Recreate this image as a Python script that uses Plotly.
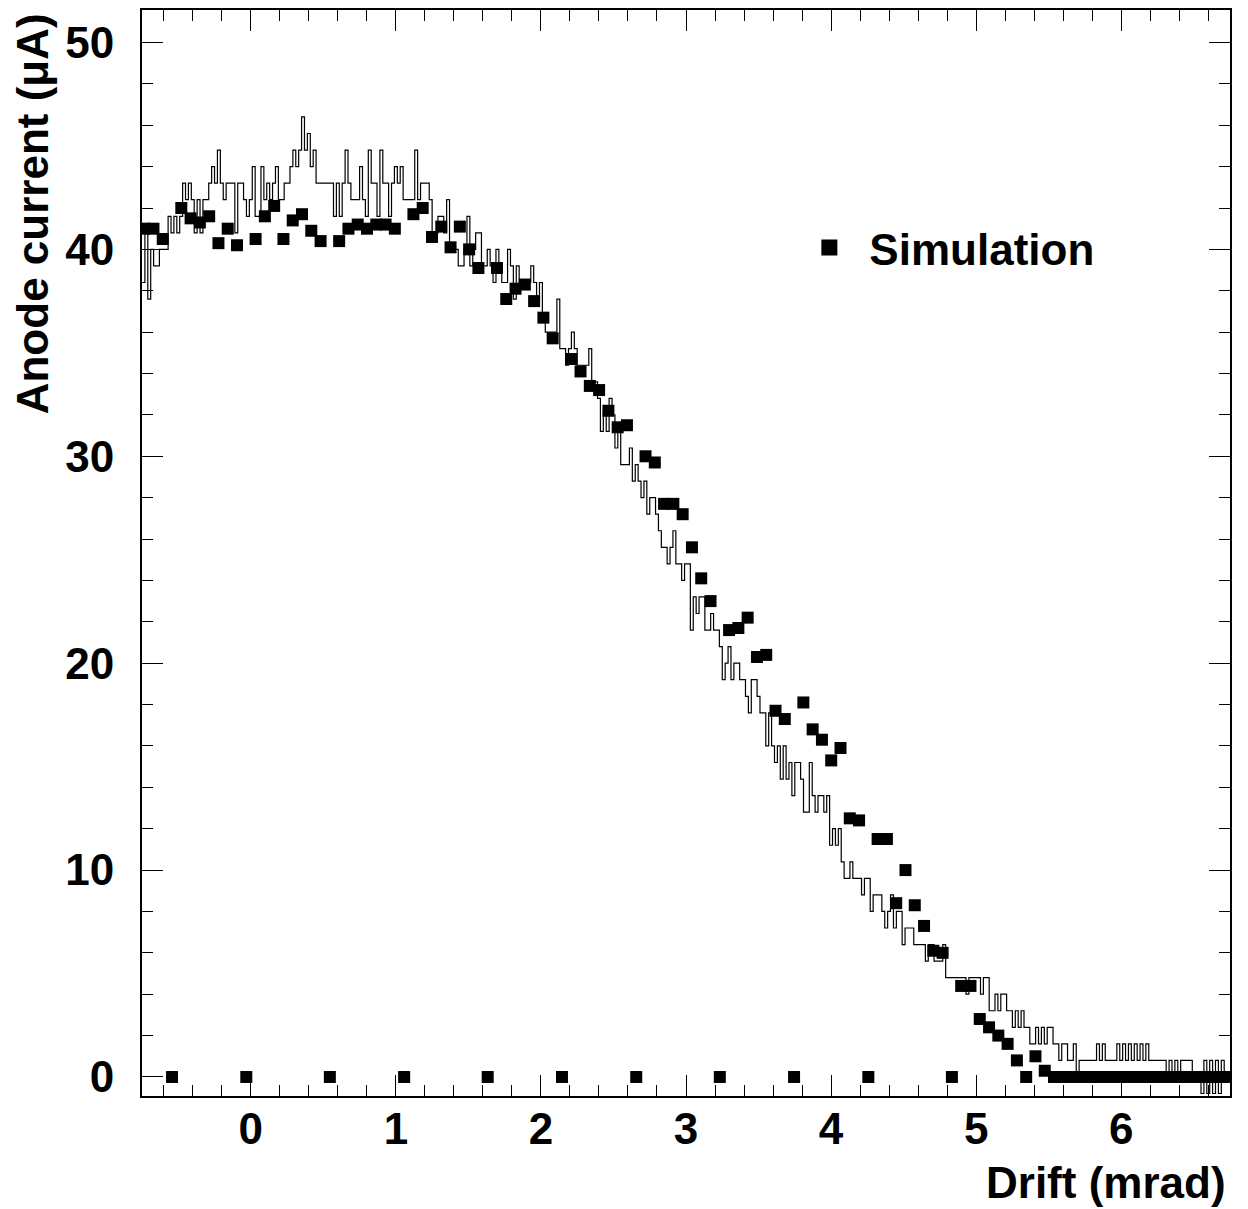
import plotly.graph_objects as go

# ---------------- data ----------------
# Measured anode current histogram (uA), 0.02 mrad bins starting at -0.75 mrad
BIN_LO = -0.75
BIN_W = 0.02
HIST_UA = [
    38.4, 40.8, 37.6, 40.0, 39.2, 39.2, 40.0, 40.0, 40.0, 41.6, 40.8, 41.6, 40.8, 41.6, 43.2, 42.4, 43.2, 42.4, 40.8, 42.4, 40.8, 42.4, 42.4, 43.2, 44.0,
    43.2, 44.8, 43.2, 42.4, 43.2, 43.2, 43.2, 40.8, 43.2, 43.2, 42.4, 41.6, 42.4, 44.0, 41.6, 41.6, 44.0, 42.4, 43.2, 42.4, 43.2, 44.0, 42.4, 42.4, 43.2,
    43.2, 44.0, 44.8, 44.0, 44.8, 46.4, 44.8, 45.6, 44.0, 44.8, 43.2, 43.2, 43.2, 43.2, 43.2, 43.2, 41.6, 43.2, 41.6, 43.2, 44.8, 43.2, 42.4, 42.4, 42.4,
    44.0, 42.4, 41.6, 44.8, 43.2, 43.2, 41.6, 44.8, 43.2, 43.2, 41.6, 43.2, 44.0, 43.2, 44.0, 42.4, 42.4, 42.4, 42.4, 44.8, 42.4, 43.2, 43.2, 43.2, 42.4,
    40.8, 40.8, 41.6, 41.6, 40.8, 42.4, 40.0, 40.0, 40.0, 39.2, 39.2, 40.0, 41.6, 39.2, 40.0, 40.8, 40.8, 39.2, 39.2, 40.0, 39.2, 38.4, 40.0, 39.2, 38.4,
    38.4, 40.0, 39.2, 37.6, 39.2, 38.4, 38.4, 38.4, 38.4, 39.2, 38.4, 37.6, 38.4, 36.8, 36.0, 36.0, 36.0, 36.0, 37.6, 35.2, 35.2, 34.4, 35.2, 36.0, 35.2,
    34.4, 34.4, 34.4, 34.4, 35.2, 33.6, 33.6, 32.8, 31.2, 32.0, 31.2, 32.8, 32.0, 30.4, 31.2, 29.6, 29.6, 29.6, 30.4, 28.8, 29.6, 28.8, 28.0, 28.8, 27.2,
    28.0, 28.0, 27.2, 26.4, 25.6, 25.6, 24.8, 25.6, 26.4, 24.8, 24.8, 24.0, 24.8, 24.8, 21.6, 23.2, 22.4, 23.2, 23.2, 21.6, 21.6, 22.4, 21.6, 21.6, 20.8,
    19.2, 20.0, 20.8, 19.2, 20.0, 20.0, 19.2, 19.2, 18.4, 17.6, 19.2, 19.2, 18.4, 17.6, 17.6, 16.0, 17.6, 16.0, 15.2, 16.0, 14.4, 16.0, 14.4, 15.2, 13.6,
    15.2, 15.2, 14.4, 12.8, 12.8, 15.2, 13.6, 12.8, 13.6, 13.6, 12.8, 13.6, 11.2, 12.0, 11.2, 12.0, 10.4, 9.6, 9.6, 10.4, 9.6, 9.6, 9.6, 8.8, 9.6,
    9.6, 8.0, 8.8, 8.8, 8.8, 8.0, 7.2, 8.0, 8.8, 7.2, 8.0, 8.0, 6.4, 7.2, 7.2, 7.2, 6.4, 6.4, 6.4, 6.4, 5.6, 6.4, 6.4, 5.6, 5.6,
    5.6, 6.4, 4.8, 4.8, 4.8, 4.8, 4.8, 4.8, 4.8, 4.0, 4.8, 4.8, 4.8, 4.8, 4.0, 4.8, 4.8, 3.2, 3.2, 4.0, 3.2, 4.0, 4.0, 3.2, 3.2,
    2.4, 3.2, 2.4, 3.2, 2.4, 2.4, 1.6, 1.6, 2.4, 1.6, 2.4, 1.6, 2.4, 2.4, 1.6, 1.6, 0.8, 1.6, 1.6, 0.8, 0.8, 1.6, 0.0, 0.8, 0.8,
    0.8, 0.8, 0.8, 0.8, 1.6, 0.8, 1.6, 0.8, 0.8, 0.8, 0.8, 1.6, 0.8, 1.6, 0.8, 1.6, 0.8, 1.6, 0.8, 1.6, 0.8, 1.6, 0.8, 0.8, 0.8,
    0.8, 0.8, 0.8, 0.0, 0.8, 0.0, 0.8, 0.0, 0.8, 0.8, 0.8, 0.8, 0.0, 0.0, 0.0, -0.8, 0.8, -0.8, 0.8, -0.8, 0.8, -0.8, 0.8, 0.0, 0.0,
]

# Simulation points
SIM_X = [
    -0.735, -0.671, -0.607, -0.543, -0.479, -0.415, -0.351, -0.287, -0.223, -0.159,
    -0.095, -0.031, 0.033, 0.097, 0.161, 0.225, 0.289, 0.353, 0.417, 0.481,
    0.545, 0.609, 0.673, 0.737, 0.801, 0.865, 0.929, 0.993, 1.057, 1.121,
    1.185, 1.249, 1.313, 1.377, 1.441, 1.505, 1.569, 1.633, 1.697, 1.761,
    1.825, 1.889, 1.953, 2.017, 2.081, 2.145, 2.209, 2.273, 2.337, 2.401,
    2.465, 2.529, 2.593, 2.657, 2.721, 2.785, 2.849, 2.913, 2.977, 3.041,
    3.105, 3.169, 3.233, 3.297, 3.361, 3.425, 3.489, 3.553, 3.617, 3.681,
    3.745, 3.809, 3.873, 3.937, 4.001, 4.065, 4.129, 4.193, 4.257, 4.321,
    4.385, 4.449, 4.513, 4.577, 4.641, 4.705, 4.769, 4.833, 4.897, 4.961,
    5.025, 5.089, 5.153, 5.217, 5.281, 5.345, 5.409, 5.473, 5.537, 5.601,
    5.665, 5.729, 5.793, 5.857, 5.921, 5.985, 6.049, 6.113, 6.177, 6.241,
    6.305, 6.369, 6.433, 6.497, 6.561, 6.625, 6.689, 6.753,
]
SIM_Y = [
    41.0, 41.0, 40.5, 0.0, 42.0, 41.5, 41.3, 41.6, 40.3, 41.0,
    40.2, 0.0, 40.5, 41.6, 42.1, 40.5, 41.4, 41.7, 40.9, 40.4,
    0.0, 40.4, 41.0, 41.2, 41.0, 41.2, 41.2, 41.0, 0.0, 41.7,
    42.0, 40.6, 41.1, 40.1, 41.1, 40.0, 39.1, 0.0, 39.1, 37.6,
    38.1, 38.3, 37.5, 36.7, 35.7, 0.0, 34.7, 34.1, 33.4, 33.2,
    32.2, 31.4, 31.5, 0.0, 30.0, 29.7, 27.7, 27.7, 27.2, 25.6,
    24.1, 23.0, 0.0, 21.6, 21.7, 22.2, 20.3, 20.4, 17.7, 17.3,
    0.0, 18.1, 16.8, 16.3, 15.3, 15.9, 12.5, 12.4, 0.0, 11.5,
    11.5, 8.4, 10.0, 8.3, 7.3, 6.1, 6.0, 0.0, 4.4, 4.4,
    2.8, 2.4, 2.0, 1.6, 0.8, 0.0, 1.0, 0.3, 0.0, 0.0,
    0.0, 0.0, 0.0, 0.0, 0.0, 0.0, 0.0, 0.0, 0.0, 0.0,
    0.0, 0.0, 0.0, 0.0, 0.0, 0.0, 0.0, 0.0,
]

X_RANGE = [-0.75, 6.75]
Y_RANGE = [-0.92, 51.57]
X_TICKS = [0, 1, 2, 3, 4, 5, 6]
Y_TICKS = [0, 10, 20, 30, 40, 50]

# ---------------- figure ----------------
FONT = "Liberation Sans"

edges = [BIN_LO + BIN_W * i for i in range(len(HIST_UA) + 1)]
hx = edges
hy = HIST_UA + [HIST_UA[-1]]

fig = go.Figure()
fig.add_trace(go.Scatter(
    x=hx, y=hy, mode="lines", line=dict(shape="hv", color="black", width=1.2),
    showlegend=False, hoverinfo="skip",
))
fig.add_trace(go.Scatter(
    x=SIM_X, y=SIM_Y, mode="markers", name="Simulation",
    marker=dict(symbol="square", size=12, color="black", line=dict(width=0)),
    showlegend=False,
))
# legend entry only (larger legend symbol as in the original)
fig.add_trace(go.Scatter(
    x=[None], y=[None], mode="markers", name="Simulation",
    marker=dict(symbol="square", size=16, color="black", line=dict(width=0)),
    showlegend=True,
))

axis_common = dict(
    showgrid=False, zeroline=False, showline=True, linecolor="black", linewidth=2,
    mirror="allticks", ticks="inside", tickcolor="black", tickwidth=1.3,
    tickfont=dict(family=FONT, size=44, color="black", weight="bold"),
)
fig.update_xaxes(
    range=X_RANGE, tickmode="array", tickvals=X_TICKS, ticktext=[str(v) for v in X_TICKS],
    ticklen=21, ticklabelstandoff=-7,
    minor=dict(ticks="inside", ticklen=11, tickwidth=1.3, tickcolor="black", dtick=0.2, tick0=0),
    **axis_common,
)
fig.update_yaxes(
    range=Y_RANGE, tickmode="array", tickvals=Y_TICKS, ticktext=[str(v) for v in Y_TICKS],
    ticklen=21, ticklabelstandoff=17,
    minor=dict(ticks="inside", ticklen=11, tickwidth=1.3, tickcolor="black", dtick=2, tick0=0),
    **axis_common,
)

fig.add_annotation(
    text="Drift (mrad)", xref="paper", yref="paper", x=0.998, y=-0.08,
    xanchor="right", yanchor="middle", showarrow=False,
    font=dict(family=FONT, size=44, color="black", weight="bold"),
)
fig.add_annotation(
    text="Anode current (μA)", xref="paper", yref="paper", x=-0.101, y=0.812,
    xanchor="center", yanchor="middle", textangle=-90, showarrow=False,
    font=dict(family=FONT, size=44, color="black", weight="bold"),
)

fig.update_layout(
    width=1248, height=1209,
    margin=dict(l=142, r=18, t=8, b=113),
    paper_bgcolor="white", plot_bgcolor="white",
    legend=dict(
        x=0.595, y=0.781, xanchor="left", yanchor="middle",
        bgcolor="rgba(0,0,0,0)", borderwidth=0,
        font=dict(family=FONT, size=44, color="black", weight="bold"),
        itemwidth=70,
    ),
)

fig.write_html("out.html")
